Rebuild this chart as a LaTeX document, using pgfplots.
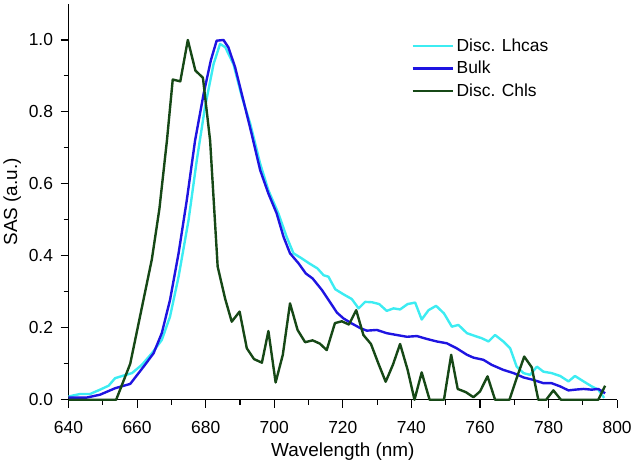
\documentclass[border=0pt]{standalone}
\usepackage{pgfplots}
\pgfplotsset{compat=1.18}
\usepackage{fontspec}
\setmainfont{Liberation Sans}
\definecolor{lhc}{RGB}{60,236,242}
\definecolor{bulk}{RGB}{30,20,225}
\definecolor{chl}{RGB}{22,72,22}
\begin{document}
\begin{tikzpicture}
\begin{axis}[
  scale only axis,
  width=549bp, height=396bp,
  xmin=640, xmax=800, ymin=0, ymax=1.1,
  axis x line=bottom, axis y line=left,
  axis line style={-, line width=1.1bp},
  clip=false,
  xtick={640,660,...,800},
  ytick={0,0.2,...,1.0},
  minor x tick num=1, minor y tick num=1,
  tick align=outside,
  major tick length=8bp, minor tick length=5bp,
  tick style={black, line width=1.1bp},
  yticklabel style={xshift=-4bp, /pgf/number format/fixed, /pgf/number format/fixed zerofill, /pgf/number format/precision=1},
  /pgf/number format/assume math mode=true,
  ticklabel style={font=\fontsize{17.5}{20}\selectfont},
  xticklabel shift=10bp,
  label style={font=\fontsize{19}{21}\selectfont},
  xlabel shift=2bp,
  ylabel shift=1bp,
  xlabel={Wavelength (nm)},
  ylabel={SAS (a.u.)},
  legend style={draw=none, fill=none, at={(0.619,0.923)}, anchor=north west,
    font=\fontsize{17.5}{20}\selectfont, row sep=4.5bp},
  legend cell align=left,
  legend image code/.code={\draw[#1] (0bp,0bp) -- (41bp,0bp);},
  every axis plot/.append style={line width=2.4bp, line join=round},
  after end axis/.code={\path (rel axis cs:0,1) ++(0bp,4bp);},
]
\addplot[lhc] coordinates {
(640,0.009) (643.4,0.016) (646.3,0.016) (649.2,0.028) (651.7,0.039) (653.6,0.060)
(656,0.067) (658.5,0.074) (661.4,0.097) (664.3,0.129) (667.2,0.166) (669.6,0.231)
(672.1,0.342) (675,0.499) (677.4,0.665) (679.8,0.813) (682.3,0.933) (684.2,0.989)
(685.7,0.980) (688.1,0.933) (690.6,0.841) (693,0.767) (695.9,0.656) (698.3,0.582)
(701.2,0.518) (703.6,0.453) (705.6,0.407) (708,0.393) (710.2,0.379) (712.6,0.365)
(714.4,0.346) (715.8,0.342) (717.8,0.307) (720.2,0.293) (722.6,0.280) (724.6,0.254)
(726.5,0.272) (728.5,0.271) (730.6,0.266) (732.8,0.247) (734.8,0.254) (736.7,0.251)
(738.9,0.266) (741.1,0.270) (743,0.223) (745,0.249) (747.2,0.261) (749.5,0.240)
(751.8,0.203) (753.7,0.208) (756.2,0.185) (758.6,0.177) (760.5,0.171) (762.5,0.162)
(764.4,0.180) (766.8,0.162) (768.8,0.143) (770.7,0.092) (772.7,0.074) (774.6,0.069)
(776.6,0.092) (778.5,0.078) (780.9,0.074) (783.4,0.066) (785.8,0.051) (787.7,0.066)
(790.2,0.051) (792.6,0.037) (794.5,0.028) (796.2,0.005)
};
\addlegendentry{Disc. Lhcas}
\addplot[bulk] coordinates {
(640,0.006) (645.3,0.006) (649.2,0.014) (653.6,0.032) (658,0.044) (661.9,0.092)
(664.8,0.129) (667.2,0.185) (669.6,0.277) (672.1,0.407) (674.5,0.555) (676.9,0.720)
(679.4,0.850) (681.5,0.943) (683.2,0.998) (685.2,1.000) (686.6,0.980) (688.6,0.924)
(691,0.832) (693.4,0.739) (695.9,0.638) (698.3,0.573) (700.7,0.518) (702.7,0.453)
(704.6,0.407) (707.1,0.379) (709.2,0.351) (711.2,0.337) (713.9,0.305) (716,0.275)
(718.3,0.242) (720.2,0.226) (722.6,0.212) (725.1,0.199) (727,0.192) (729.9,0.194)
(732.8,0.185) (735.7,0.180) (738.7,0.175) (741.6,0.177) (744.5,0.169) (747.4,0.162)
(750.3,0.157) (753.2,0.143) (756.2,0.125) (758.1,0.117) (761,0.111) (763.4,0.097)
(766.8,0.083) (769.8,0.074) (772.7,0.062) (775.6,0.055) (778.5,0.046) (780.9,0.046)
(783.4,0.037) (785.8,0.026) (787.7,0.028) (790.2,0.030) (792.6,0.028) (794.5,0.030)
(796.5,0.018)
};
\addlegendentry{Bulk}
\addplot[chl] coordinates {
(640,0) (653.9,0) (658,0.100) (664.3,0.390) (666.5,0.530) (668.7,0.720) (670.4,0.890)
(672.6,0.885) (674.8,1.000) (677,0.915) (679.2,0.895) (681.3,0.720) (683.5,0.370)
(685.7,0.280) (687.6,0.217) (689.9,0.245) (692,0.143) (694.1,0.113) (696.4,0.103)
(698.3,0.191) (700.4,0.048) (702.5,0.125) (704.6,0.268) (706.8,0.194) (709,0.160)
(711.2,0.165) (713.3,0.156) (715.3,0.138) (717.7,0.213) (719.7,0.218) (721.8,0.209)
(723.9,0.249) (726,0.180) (728.2,0.155) (730.4,0.100) (732.5,0.050) (734.6,0.097)
(736.7,0.155) (738.9,0.083) (740.9,0) (743,0.076) (745.3,0) (749.5,0) (751.6,0.125)
(753.5,0.030) (755.9,0.021) (758.1,0.007) (760,0.023) (762.2,0.065) (764.4,0)
(768.6,0) (770.7,0.060) (772.9,0.120) (775.1,0.090) (777,0) (779.3,0) (781.4,0.026)
(783.6,0) (794.5,0) (796.5,0.039)
};
\addlegendentry{Disc. Chls}
\end{axis}
\end{tikzpicture}
\end{document}
